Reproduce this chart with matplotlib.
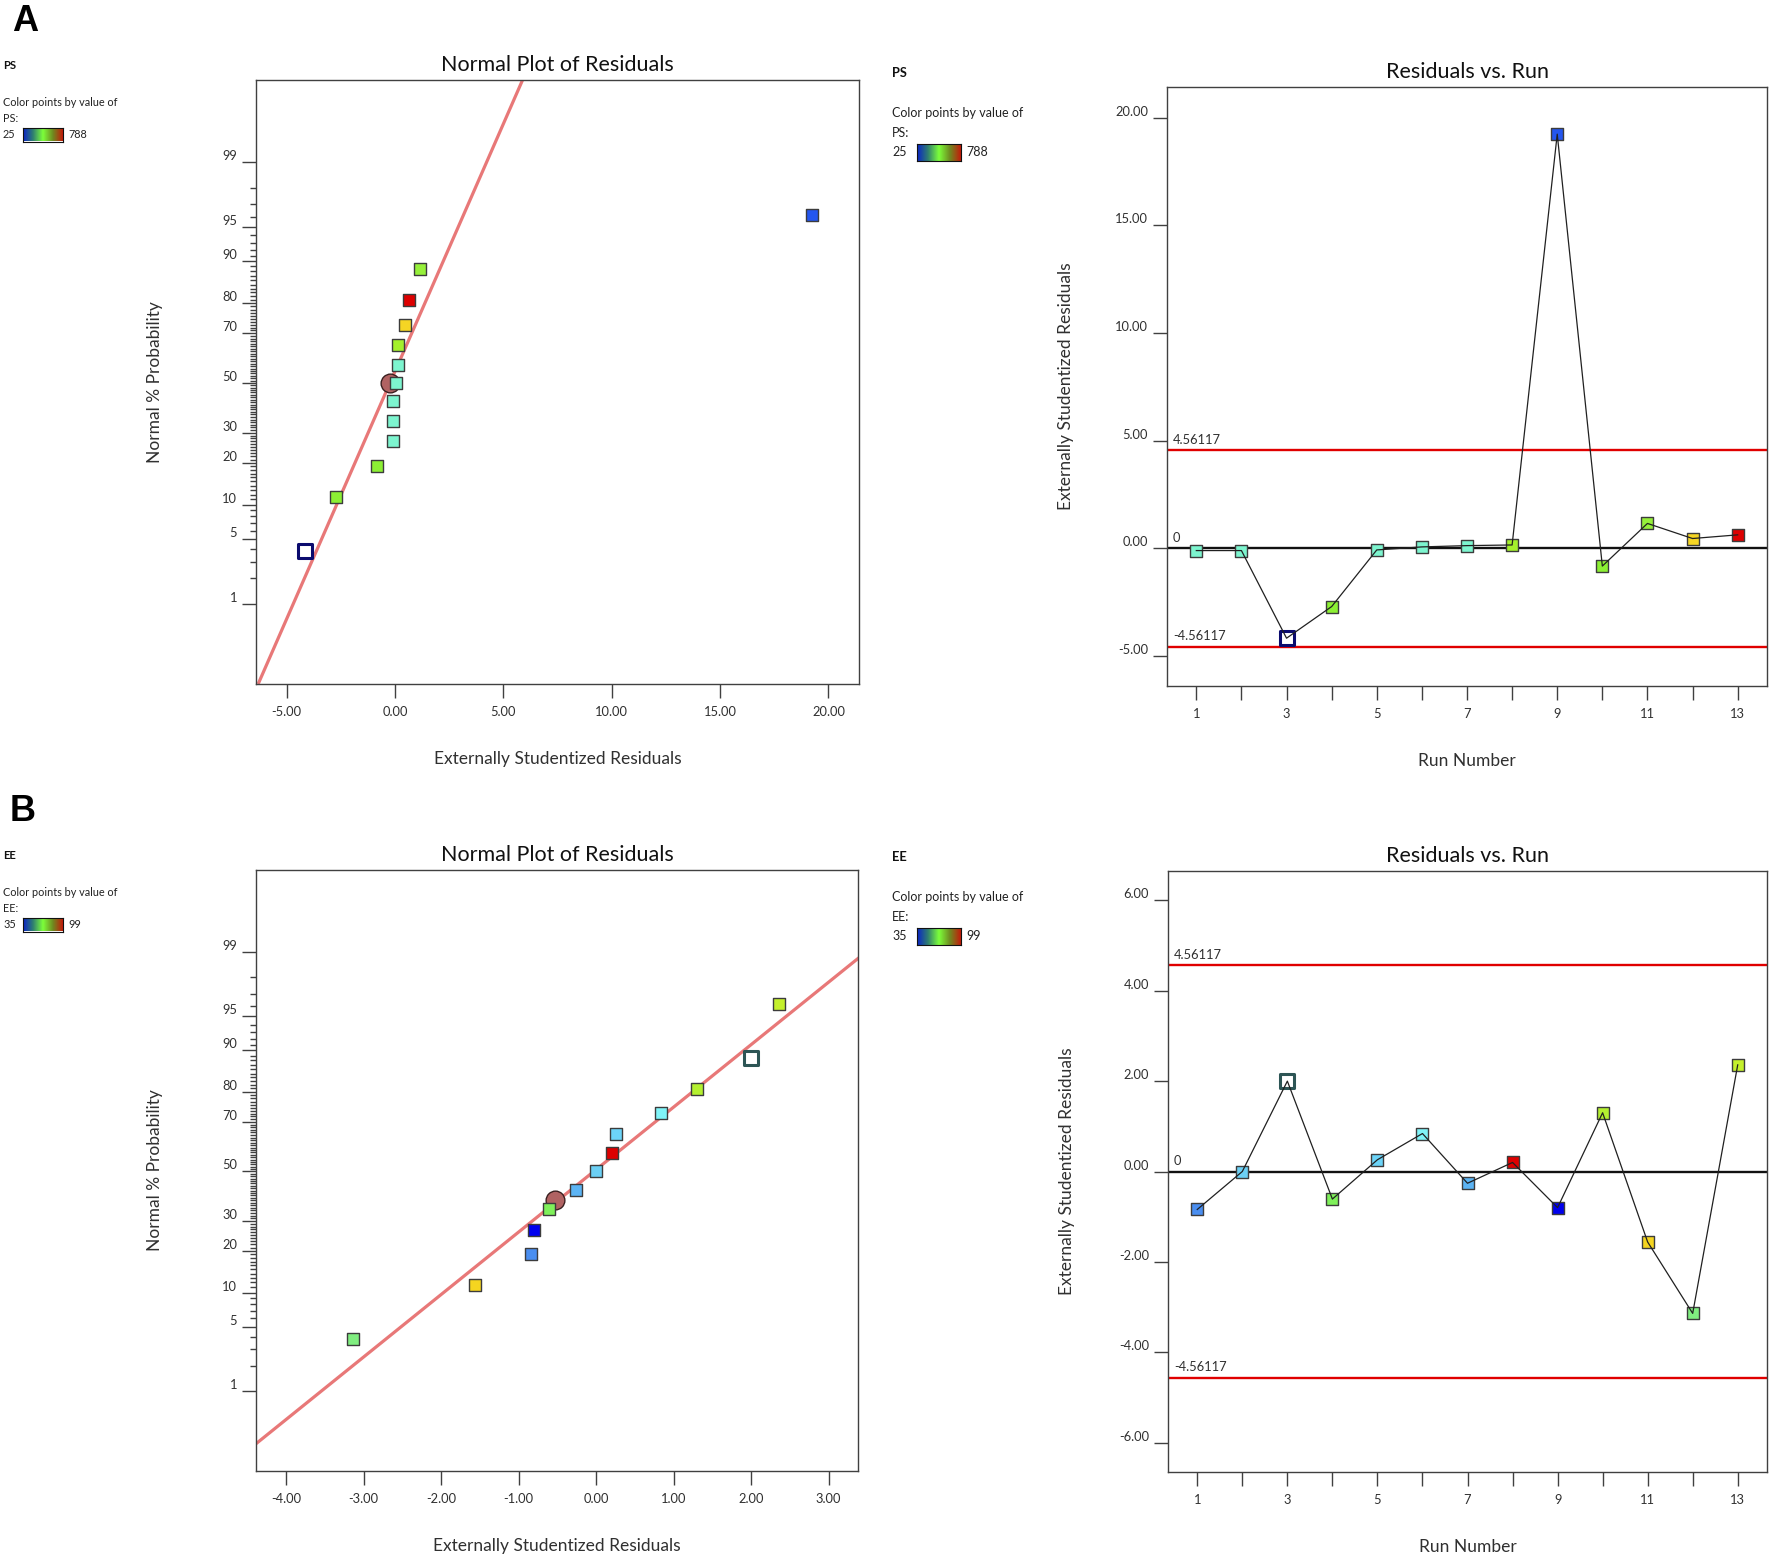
import numpy as np
import matplotlib
matplotlib.use('Agg')
import matplotlib.pyplot as plt
from matplotlib.colors import LinearSegmentedColormap
from statistics import NormalDist

plt.rcParams['font.family'] = ['Lato', 'DejaVu Sans']

W, H = 1772, 1556

# ---------------- data ----------------
RUNS = list(range(1, 14))
RUN_TICK_LABELS = ['1', '', '3', '', '5', '', '7', '', '9', '', '11', '', '13']

# Panel A (PS): externally studentized residuals by run
PS_RESID = [-0.10, -0.10, -4.17, -2.70, -0.07, 0.07, 0.13, 0.16, 19.24, -0.82, 1.16, 0.46, 0.63]
PS_COLORS = ['#7df5cf', '#7df5cf', '#ffffff', '#8cf034', '#7df5cf', '#7df5cf', '#7df5cf',
             '#a4f02c', '#2456ee', '#8cf034', '#96f03a', '#f5d524', '#dd0000']
PS_HOLLOW_RUN = 3
PS_HOLLOW_EDGE = '#0b0b6e'
PS_LINE = (-0.23, 1.918)          # centre (x at 50 %), x per probit unit
PS_CIRCLE = (-0.25, 50.0)
PS_RANGE = (25, 788)

# Panel B (EE)
EE_RESID = [-0.84, 0.00, 2.00, -0.61, 0.26, 0.84, -0.26, 0.20, -0.80, 1.30, -1.56, -3.14, 2.36]
EE_COLORS = ['#4a8ef0', '#6cd0f5', '#ffffff', '#7ff05a', '#6cd4f8', '#80f4f8', '#5cb4f4',
             '#dd0000', '#0000ee', '#b4f030', '#f5d520', '#80ee80', '#c4f02c']
EE_HOLLOW_RUN = 3
EE_HOLLOW_EDGE = '#2d5555'
EE_LINE = (-0.03, 1.513)
EE_CIRCLE = (-0.53, 38.2)
EE_RANGE = (35, 99)

# normal % probability of the ranked residuals
NP_PCT = [3.85, 11.54, 19.23, 26.92, 34.62, 42.31, 50.0, 57.69, 65.38, 73.08, 80.77, 88.46, 96.15]
PROB_MAJOR = [1, 5, 10, 20, 30, 50, 70, 80, 90, 95, 99]
PROB_MINOR = [p for p in range(2, 99) if p not in PROB_MAJOR]

THRESH = 4.56117

PS_NP_XTICKS = [-5, 0, 5, 10, 15, 20]
EE_NP_XTICKS = [-4, -3, -2, -1, 0, 1, 2, 3]
PS_RUN_YTICKS = [-5, 0, 5, 10, 15, 20]
EE_RUN_YTICKS = [-6, -4, -2, 0, 2, 4, 6]

PS_XLIM = (-6.41, 21.41)
EE_XLIM = (-4.39, 3.38)
PS_RUN_YLIM = (-6.39, 21.43)
EE_RUN_YLIM = (-6.65, 6.65)
Z_LIM = (-3.17, 3.19)

# ---------------- helpers ----------------
ND = NormalDist()
_ppf = np.vectorize(ND.inv_cdf, otypes=[float])
_cdf = np.vectorize(ND.cdf, otypes=[float])


def fwd(p):
    p = np.clip(np.asarray(p, dtype=float) / 100.0, 1e-12, 1 - 1e-12)
    return _ppf(p)


def inv(z):
    return _cdf(np.asarray(z, dtype=float)) * 100.0


fig = plt.figure(figsize=(W / 100, H / 100), dpi=100)
fig.patch.set_facecolor('white')

SPINE = '#404040'
TXT = '#303030'
PX = 72 / 100.0  # points per pixel

cmap = LinearSegmentedColormap.from_list(
    'de', ['#0a22c8', '#2f7f70', '#7cff3a', '#6f8a20', '#c41a0a'])


def add_ax(x0, y0, x1, y1):
    return fig.add_axes([x0 / W, 1 - y1 / H, (x1 - x0) / W, (y1 - y0) / H])


def style_axes(ax, box):
    for s in ax.spines.values():
        s.set_color(SPINE)
        s.set_linewidth(1.0)
    ax.tick_params(axis='both', which='major', length=14 * PX, width=1.0, color=SPINE,
                   labelsize=9.3, labelcolor=TXT)
    ax.tick_params(axis='y', which='major', pad=5 * PX)
    ax.tick_params(axis='x', which='major', pad=8 * PX)
    ax.tick_params(top=False, right=False)


def set_labels(ax, box, title, xlabel, ylabel):
    x0, y0, x1, y1 = box
    w, h = x1 - x0, y1 - y0
    ax.set_title(title, fontsize=15.5, pad=9 * PX, color='#111111')
    ax.set_xlabel(xlabel, fontsize=12.5, color=TXT)
    ax.xaxis.label.set_va('center')
    ax.xaxis.set_label_coords(0.5, -75 / h)
    ax.set_ylabel(ylabel, fontsize=12.5, color=TXT)
    ax.yaxis.label.set_va('center')
    ax.yaxis.set_label_coords(-101 / w, 0.5)


def legend(x, ytop, name, rng, big):
    fs = 9 if big else 7.8
    dy = [-14, 26, 46, 65.5] if big else [-14.5, 22.5, 38.5, 54.5]
    fig.text(x / W, 1 - (ytop + dy[0]) / H, name, fontsize=fs + 0.3, weight='bold',
             va='center', ha='left', color='#111111')
    fig.text(x / W, 1 - (ytop + dy[1]) / H, 'Color points by value of', fontsize=fs,
             va='center', ha='left', color='#222222')
    fig.text(x / W, 1 - (ytop + dy[2]) / H, name + ':', fontsize=fs,
             va='center', ha='left', color='#222222')
    fig.text(x / W, 1 - (ytop + dy[3]) / H, str(rng[0]), fontsize=fs,
             va='center', ha='left', color='#222222')
    bw = 44 if big else 40
    bh = 17 if big else 14
    bx0 = x + (25 if big else 20)
    by0 = ytop + dy[3] - bh / 2
    bax = fig.add_axes([bx0 / W, 1 - (by0 + bh) / H, bw / W, bh / H])
    bax.imshow(np.linspace(0, 1, 256)[None, :], aspect='auto', cmap=cmap)
    bax.set_xticks([])
    bax.set_yticks([])
    for s in bax.spines.values():
        s.set_linewidth(0.8)
        s.set_color('#111111')
    fig.text((bx0 + bw + 5) / W, 1 - (ytop + dy[3]) / H, str(rng[1]), fontsize=fs,
             va='center', ha='left', color='#222222')


def normal_plot(box, resid, colors, hollow_run, hollow_edge, circle, line, xlim, xticks):
    ax = add_ax(*box)
    ax.set_yscale('function', functions=(fwd, inv))
    ylim = (float(inv(Z_LIM[0])), float(inv(Z_LIM[1])))
    ax.set_xlim(*xlim)
    ax.set_ylim(*ylim)
    resid = np.asarray(resid, dtype=float)
    order = np.argsort(resid, kind='stable')
    # fitted normal line
    lp = np.array(ylim)
    lx = line[0] + line[1] * fwd(lp)
    ax.plot(lx, lp, color='#e87878', lw=2.3, zorder=2, solid_capstyle='butt')
    ax.scatter([circle[0]], [circle[1]], s=13.5 ** 2, marker='o', c='#b06262',
               edgecolors='#3a2020', linewidths=1.0, zorder=3)
    for rank, idx in enumerate(order):
        if idx + 1 == hollow_run:
            ax.scatter([resid[idx]], [NP_PCT[rank]], s=10 ** 2, marker='s', c='white',
                       edgecolors=hollow_edge, linewidths=2.2, zorder=4)
        else:
            ax.scatter([resid[idx]], [NP_PCT[rank]], s=8 ** 2, marker='s', c=colors[idx],
                       edgecolors='#3c3c3c', linewidths=1.0, zorder=4)
    ax.set_yticks(PROB_MAJOR)
    ax.set_yticklabels([str(p) for p in PROB_MAJOR])
    ax.set_yticks(PROB_MINOR, minor=True)
    ax.yaxis.set_minor_formatter(plt.NullFormatter())
    ax.set_xticks(xticks)
    ax.set_xticklabels([f'{v:.2f}' for v in xticks])
    style_axes(ax, box)
    ax.tick_params(axis='y', which='minor', length=6 * PX, width=1.0, color=SPINE)
    ax.tick_params(axis='x', which='minor', bottom=False)
    plt.setp(ax.get_yticklabels(), va='bottom')
    set_labels(ax, box, 'Normal Plot of Residuals', 'Externally Studentized Residuals',
               'Normal % Probability')
    return ax


def run_plot(box, resid, colors, hollow_run, hollow_edge, ylim, yticks):
    ax = add_ax(*box)
    ax.set_xlim(0.35, 13.65)
    ax.set_ylim(*ylim)
    ax.axhline(THRESH, color='#e00000', lw=1.7, zorder=2)
    ax.axhline(-THRESH, color='#e00000', lw=1.7, zorder=2)
    ax.axhline(0, color='#111111', lw=1.7, zorder=2)
    ax.plot(RUNS, resid, color='#202020', lw=0.9, zorder=5)
    for r, v, c in zip(RUNS, resid, colors):
        if r == hollow_run:
            ax.scatter([r], [v], s=10 ** 2, marker='s', c='white', edgecolors=hollow_edge,
                       linewidths=2.2, zorder=4)
        else:
            ax.scatter([r], [v], s=8 ** 2, marker='s', c=c, edgecolors='#3c3c3c',
                       linewidths=1.0, zorder=4)
    for val, lab in [(THRESH, '4.56117'), (0, '0'), (-THRESH, '-4.56117')]:
        ax.annotate(lab, xy=(0, val), xycoords=('axes fraction', 'data'),
                    xytext=(6 * PX, 10.5 * PX), textcoords='offset points',
                    ha='left', va='center', fontsize=9.3, color=TXT)
    ax.set_xticks(RUNS)
    ax.set_xticklabels(RUN_TICK_LABELS)
    ax.set_yticks(yticks)
    ax.set_yticklabels([f'{v:.2f}' for v in yticks])
    style_axes(ax, box)
    plt.setp(ax.get_yticklabels(), va='bottom')
    set_labels(ax, box, 'Residuals vs. Run', 'Run Number', 'Externally Studentized Residuals')
    return ax


# ---------------- panels ----------------
BOX_A_NP = (256, 80, 859, 684)
BOX_A_RUN = (1167, 87, 1767, 686)
BOX_B_NP = (256, 870, 858, 1471)
BOX_B_RUN = (1168, 871, 1767, 1472)

normal_plot(BOX_A_NP, PS_RESID, PS_COLORS, PS_HOLLOW_RUN, PS_HOLLOW_EDGE, PS_CIRCLE,
            PS_LINE, PS_XLIM, PS_NP_XTICKS)
run_plot(BOX_A_RUN, PS_RESID, PS_COLORS, PS_HOLLOW_RUN, PS_HOLLOW_EDGE, PS_RUN_YLIM,
         PS_RUN_YTICKS)
normal_plot(BOX_B_NP, EE_RESID, EE_COLORS, EE_HOLLOW_RUN, EE_HOLLOW_EDGE, EE_CIRCLE,
            EE_LINE, EE_XLIM, EE_NP_XTICKS)
run_plot(BOX_B_RUN, EE_RESID, EE_COLORS, EE_HOLLOW_RUN, EE_HOLLOW_EDGE, EE_RUN_YLIM,
         EE_RUN_YTICKS)

legend(3, 80, 'PS', PS_RANGE, big=False)
legend(892, 87, 'PS', PS_RANGE, big=True)
legend(3, 870, 'EE', EE_RANGE, big=False)
legend(892, 871, 'EE', EE_RANGE, big=True)

fig.text(12 / W, 1 - 31 / H, 'A', fontsize=26, weight='bold', ha='left', va='baseline',
         family=['Liberation Sans', 'DejaVu Sans'], color='black')
fig.text(10 / W, 1 - 821 / H, 'B', fontsize=26, weight='bold', ha='left', va='baseline',
         family=['Liberation Sans', 'DejaVu Sans'], color='black')

fig.savefig('out.png', dpi=100, facecolor='white')
